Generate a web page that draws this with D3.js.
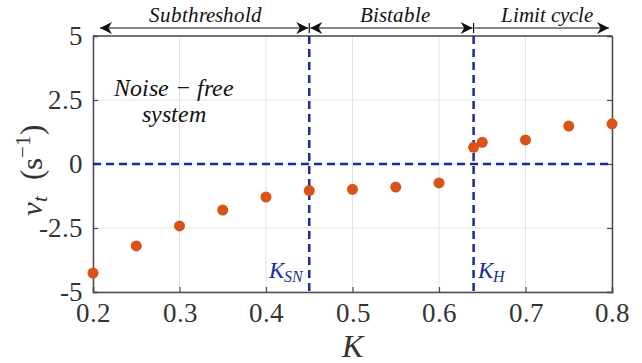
<!DOCTYPE html>
<html>
<head>
<meta charset="utf-8">
<script src="https://cdn.jsdelivr.net/npm/d3@7"></script>
<style>
  @font-face { font-family: "ChartSerif"; font-style: normal; src: local("Liberation Serif"), local("LiberationSerif"), local("Liberation Serif Regular"); }
  @font-face { font-family: "ChartSerif"; font-style: italic; src: local("Liberation Serif Italic"), local("LiberationSerif-Italic"); }
</style>
</head>
<body style="margin:0">
<svg id="chart" width="642" height="363"></svg>
<script>
// coupling strength K and mean velocity v_t
var kValues = [0.2, 0.25, 0.3, 0.35, 0.4, 0.45, 0.5, 0.55, 0.6, 0.64, 0.65, 0.7, 0.75, 0.8];
var vValues = [-4.26, -3.2, -2.42, -1.8, -1.29, -1.04, -0.99, -0.9, -0.74, 0.65, 0.85, 0.94, 1.48, 1.57];

var xTicks = [0.2, 0.3, 0.4, 0.5, 0.6, 0.7, 0.8];
var yTicks = [-5, -2.5, 0, 2.5, 5];
var yTickLabels = ["-5", "-2.5", "0", "2.5", "5"];

// bifurcation points and regions
var kSN = 0.45, kH = 0.64;
var regionNames = ["Subthreshold", "Bistable", "Limit cycle"];
var regionBounds = [0.2, 0.45, 0.64, 0.8];

var serif = '"ChartSerif", "Liberation Serif", "Tinos", "FreeSerif"';
function setFont(sel, size, italic) {
    sel.style("font-family", serif)
        .style("font-size", size + "px")
        .style("font-style", italic ? "italic" : "normal");
    return sel;
}

var make_chart = function () {
    var margin = { top: 36, right: 30, bottom: 71, left: 93 };
    var width = 642, height = 363;

    var x = d3.scaleLinear().domain([0.2, 0.8]).range([margin.left, width - margin.right]);
    var y = d3.scaleLinear().domain([-5, 5]).range([height - margin.bottom, margin.top]);

    var svg = d3.select("#chart");
    var axisColor = "#4a4a4a";
    var blue = "#1b2a9c";

    // grid
    svg.append("g").selectAll("line").data(xTicks).join("line")
        .attr("x1", d => x(d)).attr("x2", d => x(d))
        .attr("y1", y(-5)).attr("y2", y(5))
        .attr("stroke", "#e2e2e2").attr("stroke-width", 1);
    svg.append("g").selectAll("line").data(yTicks).join("line")
        .attr("x1", x(0.2)).attr("x2", x(0.8))
        .attr("y1", d => y(d)).attr("y2", d => y(d))
        .attr("stroke", "#e2e2e2").attr("stroke-width", 1);

    // axes (box with inward ticks)
    var xAxis = g => g
        .attr("transform", `translate(0,${y(-5)})`)
        .call(d3.axisBottom(x).tickValues(xTicks).tickSize(-5).tickPadding(11).tickFormat(d3.format(".1f")))
        .attr("font-family", null)
        .call(g => g.select(".domain").attr("stroke", axisColor).attr("stroke-width", 1.5))
        .call(g => g.selectAll(".tick line").attr("stroke", axisColor).attr("stroke-width", 1.2))
        .call(g => g.selectAll(".tick text").attr("fill", "#333").call(setFont, 27, false));

    var yAxis = g => g
        .attr("transform", `translate(${x(0.2)},0)`)
        .call(d3.axisLeft(y).tickValues(yTicks).tickSize(-5).tickPadding(10)
            .tickFormat((d, i) => yTickLabels[i]))
        .attr("font-family", null)
        .call(g => g.select(".domain").attr("stroke", axisColor).attr("stroke-width", 1.5))
        .call(g => g.selectAll(".tick line").attr("stroke", axisColor).attr("stroke-width", 1.2))
        .call(g => g.selectAll(".tick text").attr("fill", "#333").call(setFont, 27, false));

    svg.append("g").call(xAxis);
    svg.append("g").call(yAxis);

    // right axis with inward ticks
    svg.append("g")
        .attr("transform", `translate(${x(0.8)},0)`)
        .call(d3.axisRight(y).tickValues(yTicks).tickSize(-5).tickFormat(""))
        .call(g => g.select(".domain").attr("stroke", axisColor).attr("stroke-width", 1.5))
        .call(g => g.selectAll(".tick line").attr("stroke", axisColor).attr("stroke-width", 1.2));
    // top edge
    svg.append("line")
        .attr("x1", x(0.2)).attr("x2", x(0.8))
        .attr("y1", y(5)).attr("y2", y(5))
        .attr("stroke", axisColor).attr("stroke-width", 1.5);

    // dashed reference lines
    var dash = "8,5";
    svg.append("line")
        .attr("x1", x(0.2)).attr("x2", x(0.8)).attr("y1", y(0)).attr("y2", y(0))
        .attr("stroke", blue).attr("stroke-width", 2.5).attr("stroke-dasharray", dash);
    svg.append("g").selectAll("line").data([kSN, kH]).join("line")
        .attr("x1", d => x(d)).attr("x2", d => x(d))
        .attr("y1", y(5)).attr("y2", y(-5))
        .attr("stroke", blue).attr("stroke-width", 2.5).attr("stroke-dasharray", dash);

    // points
    svg.append("g").selectAll("circle").data(kValues).join("circle")
        .attr("cx", d => x(d))
        .attr("cy", (d, i) => y(vValues[i]))
        .attr("r", 5.5)
        .attr("fill", "#d95319");

    // bifurcation labels
    var kLab = svg.append("text").attr("fill", blue).call(setFont, 23, true)
        .attr("text-anchor", "end").attr("x", x(kSN) - 6).attr("y", y(-5) - 14);
    kLab.append("tspan").text("K");
    kLab.append("tspan").style("font-size", "16px").attr("dy", 4).text("SN");
    var hLab = svg.append("text").attr("fill", blue).call(setFont, 23, true)
        .attr("x", x(kH) + 4).attr("y", y(-5) - 14);
    hLab.append("tspan").text("K");
    hLab.append("tspan").style("font-size", "16px").attr("dy", 4).text("H");

    // noise-free annotation
    var note = ["Noise \u2212 free", "system"];
    svg.append("g").selectAll("text").data(note).join("text")
        .call(setFont, 24, true)
        .attr("text-anchor", "middle").attr("fill", "#111")
        .attr("x", 174).attr("y", (d, i) => 96 + i * 26).text(d => d);

    // region arrows along the top
    var defs = svg.append("defs");
    defs.append("marker").attr("id", "head").attr("viewBox", "0 0 10 10")
        .attr("refX", 10).attr("refY", 5).attr("markerWidth", 16).attr("markerHeight", 12)
        .attr("markerUnits", "userSpaceOnUse").attr("orient", "auto-start-reverse")
        .append("path").attr("d", "M0,0 L10,5 L0,10 L3,5 Z").attr("fill", "#111");

    var arrowY = 28;
    var regions = regionNames.map((n, i) => ({ name: n, a: regionBounds[i], b: regionBounds[i + 1] }));
    svg.append("g").selectAll("line").data(regions).join("line")
        .attr("x1", d => x(d.a) + (d.a === 0.2 ? 7 : 1))
        .attr("x2", d => x(d.b) - (d.b === 0.8 ? 3 : 1))
        .attr("y1", arrowY).attr("y2", arrowY)
        .attr("stroke", "#111").attr("stroke-width", 1.2)
        .attr("marker-end", "url(#head)")
        .attr("marker-start", d => d.a === 0.2 || d.a === kSN ? "url(#head)" : null);
    svg.append("g").selectAll("line").data([kSN, kH]).join("line")
        .attr("x1", d => x(d)).attr("x2", d => x(d))
        .attr("y1", arrowY - 5).attr("y2", arrowY + 5)
        .attr("stroke", "#111").attr("stroke-width", 1.2);
    svg.append("g").selectAll("text").data(regions).join("text")
        .call(setFont, 21, true)
        .attr("text-anchor", "middle").attr("fill", "#111")
        .attr("x", d => (x(d.a) + x(d.b)) / 2 + 4).attr("y", arrowY - 6)
        .text(d => d.name);

    // axis labels
    svg.append("text").call(setFont, 32, true)
        .attr("text-anchor", "middle").attr("fill", "#333")
        .attr("x", x(0.5)).attr("y", 357).text("K");

    var yl = svg.append("text").call(setFont, 31, false)
        .attr("text-anchor", "middle").attr("fill", "#333")
        .attr("transform", `translate(42,${(y(5) + y(-5)) / 2 + 6}) rotate(-90)`);
    yl.append("tspan").style("font-style", "italic").text("v");
    yl.append("tspan").style("font-style", "italic").style("font-size", "21px").attr("dy", 5).text("t");
    yl.append("tspan").attr("dy", -5).text("\u2002(s");
    yl.append("tspan").style("font-size", "21px").attr("dy", -12).text("\u22121");
    yl.append("tspan").attr("dy", 12).text(")");
}

make_chart();
</script>
</body>
</html>
